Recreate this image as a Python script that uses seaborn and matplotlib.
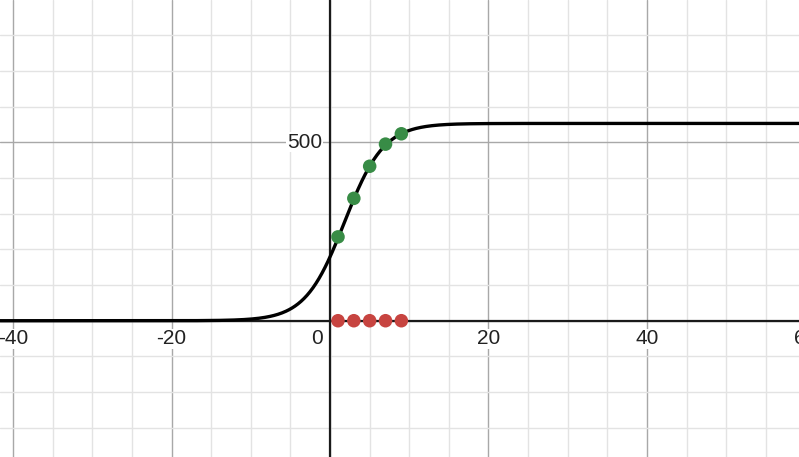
import numpy as np
import pandas as pd
import matplotlib
matplotlib.use('Agg')
from matplotlib import pyplot as plt
from matplotlib.ticker import MultipleLocator
import seaborn as sns

# Logistic curve parameters
L_max = 553
k_rate = 0.404
x_mid = 1.82

# Sample points (green) and their projections on the x axis (red)
pt_x = [1, 3, 5, 7, 9]
pt_y = [235, 343, 433, 495, 524]
pt_zero = [0, 0, 0, 0, 0]

x_ticks = [-40, -20, 20, 40, 60]
x_tick_labels = ['-40', '-20', '20', '40', '60']
y_ticks = [500]
y_tick_labels = ['500']

x_range = (-41.67, 59.2)
y_range = (-382, 899)

sns.set_theme(style='white')
plt.rcParams['font.family'] = ['Liberation Sans', 'DejaVu Sans']

xs = np.linspace(x_range[0], x_range[1], 800)
df_curve = pd.DataFrame({'x': xs, 'y': L_max / (1 + np.exp(-k_rate * (xs - x_mid)))})
df_pts = pd.DataFrame({'x': pt_x, 'y': pt_y})
df_zero = pd.DataFrame({'x': pt_x, 'y': pt_zero})

fig = plt.figure(figsize=(7.99, 4.57), dpi=100)
ax = fig.add_axes([0, 0, 1, 1])
ax.set_xlim(*x_range)
ax.set_ylim(*y_range)
for s in ax.spines.values():
    s.set_visible(False)

# grid
ax.xaxis.set_major_locator(MultipleLocator(20))
ax.xaxis.set_minor_locator(MultipleLocator(5))
ax.yaxis.set_major_locator(MultipleLocator(500))
ax.yaxis.set_minor_locator(MultipleLocator(100))
ax.grid(which='minor', color='#e3e3e3', linewidth=1)
ax.grid(which='major', color='#a8a8a8', linewidth=1)
ax.tick_params(which='both', length=0, labelbottom=False, labelleft=False)
ax.set_axisbelow(True)

ax.axhline(0, color='#1a1a1a', linewidth=1.6, zorder=2)
ax.axvline(0, color='#1a1a1a', linewidth=1.6, zorder=2)

sns.lineplot(data=df_curve, x='x', y='y', color='black', linewidth=2.4, ax=ax, zorder=3)
sns.scatterplot(data=df_pts, x='x', y='y', color='#388c46', s=95, edgecolor='none', ax=ax, zorder=4)
sns.scatterplot(data=df_zero, x='x', y='y', color='#c74440', s=95, edgecolor='none', ax=ax, zorder=4)
ax.set_xlabel('')
ax.set_ylabel('')

lbl = dict(fontsize=15, color='#222222', zorder=5, annotation_clip=False,
           bbox=dict(facecolor='white', edgecolor='none', pad=0.5))
for v, t in zip(x_ticks, x_tick_labels):
    ax.annotate(t, (v, 0), xytext=(0, -18), textcoords='offset pixels',
                ha='center', va='center', **lbl)
for v, t in zip(y_ticks, y_tick_labels):
    ax.annotate(t, (0, v), xytext=(-8, 0), textcoords='offset pixels',
                ha='right', va='center', **lbl)
ax.annotate('0', (0, 0), xytext=(-13, -18), textcoords='offset pixels',
            ha='center', va='center', **lbl)

fig.savefig('out.png', dpi=100)
